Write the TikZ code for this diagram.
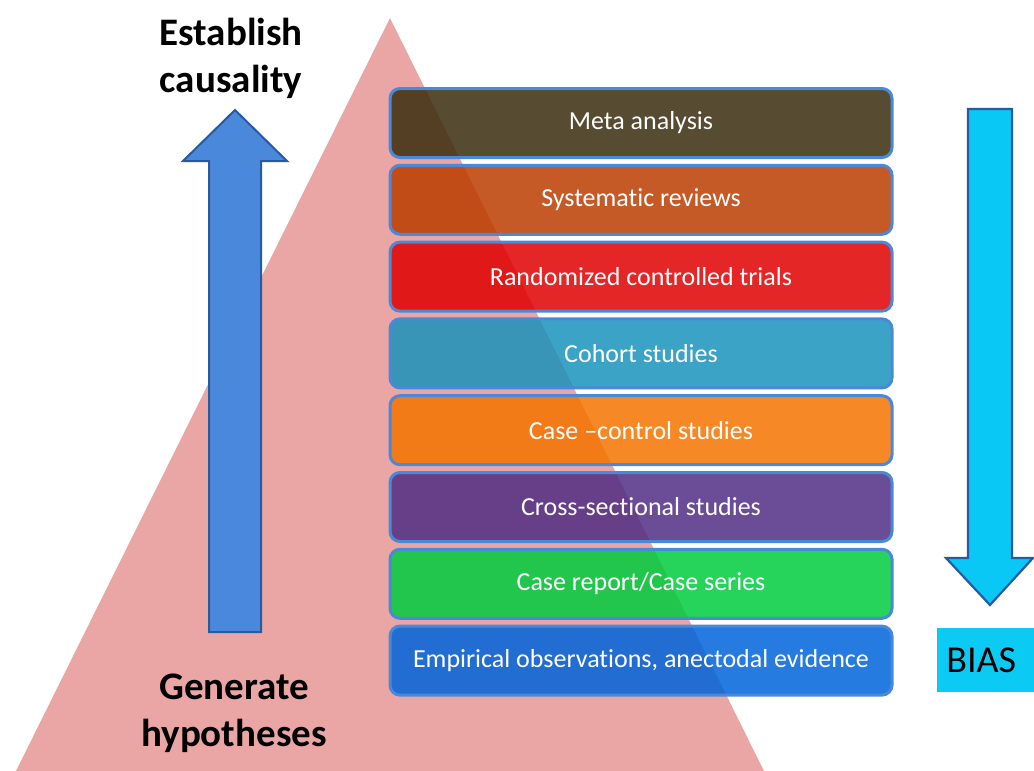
\documentclass[tikz,border=0pt]{standalone}
\usepackage{fontspec}
\setmainfont[Ligatures={NoCommon}]{Carlito}
\definecolor{tri}{RGB}{234,166,164}
\definecolor{boxline}{RGB}{74,136,218}
\definecolor{cMeta}{RGB}{58,44,14}
\definecolor{cSys}{RGB}{187,61,0}
\definecolor{cRct}{RGB}{224,0,0}
\definecolor{cCoh}{RGB}{25,147,188}
\definecolor{cCc}{RGB}{244,116,0}
\definecolor{cCs}{RGB}{81,45,132}
\definecolor{cCr}{RGB}{0,204,62}
\definecolor{cEmp}{RGB}{0,100,219}
\definecolor{upfill}{RGB}{74,136,220}
\definecolor{upline}{RGB}{40,90,160}
\definecolor{dnfill}{RGB}{10,200,245}
\definecolor{dnline}{RGB}{40,90,160}
\definecolor{biasfill}{RGB}{11,203,245}
\tikzset{
  level/.style={draw=boxline, line width=3pt, rounded corners=10pt,
    fill opacity=0.85, text opacity=1, draw opacity=1,
    minimum width=502pt, minimum height=69pt, inner sep=0pt,
    text=white, font=\fontsize{26}{31}\selectfont},
  title/.style={font=\fontsize{39}{47}\selectfont\bfseries, align=center, text=black},
}
\begin{document}
\begin{tikzpicture}[x=1pt,y=-1pt]
\useasboundingbox (0,0) rectangle (1034,771);
% pyramid
\fill[tri] (390,18) -- (766,775) -- (14,775) -- cycle;
% up arrow
\filldraw[fill=upfill, draw=upline, line width=2pt, line join=miter]
  (209,632) -- (261,632) -- (261,161) -- (287,161) -- (235,110) -- (183,161) -- (209,161) -- cycle;
% down arrow
\filldraw[fill=dnfill, draw=dnline, line width=2.2pt, line join=miter]
  (968,109) -- (1012,109) -- (1012,558) -- (1033,558) -- (990,605) -- (946,558) -- (968,558) -- cycle;
% levels
\node[level, fill=cMeta] (meta) at (641,123) {Meta analysis};
\node[level, fill=cSys]  (sys)  at (641,199.8) {Systematic reviews};
\node[level, fill=cRct]  (rct)  at (641,276.6) {Randomized controlled trials};
\node[level, fill=cCoh]  (coh)  at (641,353.4) {Cohort studies};
\node[level, fill=cCc]   (cc)   at (641,430.2) {Case –control studies};
\node[level, fill=cCs]   (cs)   at (641,507) {Cross-sectional studies};
\node[level, fill=cCr]   (cr)   at (641,583.8) {Case report/Case series};
\node[level, fill=cEmp]  (emp)  at (641,660.6) {Empirical observations, anectodal evidence};
% titles
\node[title] (est) at (231,58) {Establish\\causality};
\node[title] (gen) at (234,713) {Generate\\hypotheses};
% bias
\node[fill=biasfill, minimum width=100pt, minimum height=64pt, inner sep=0pt,
  font=\fontsize{38}{44}\selectfont, anchor=west] (bias) at (937,660) {\hspace*{-12pt}BIAS};
\end{tikzpicture}
\end{document}
